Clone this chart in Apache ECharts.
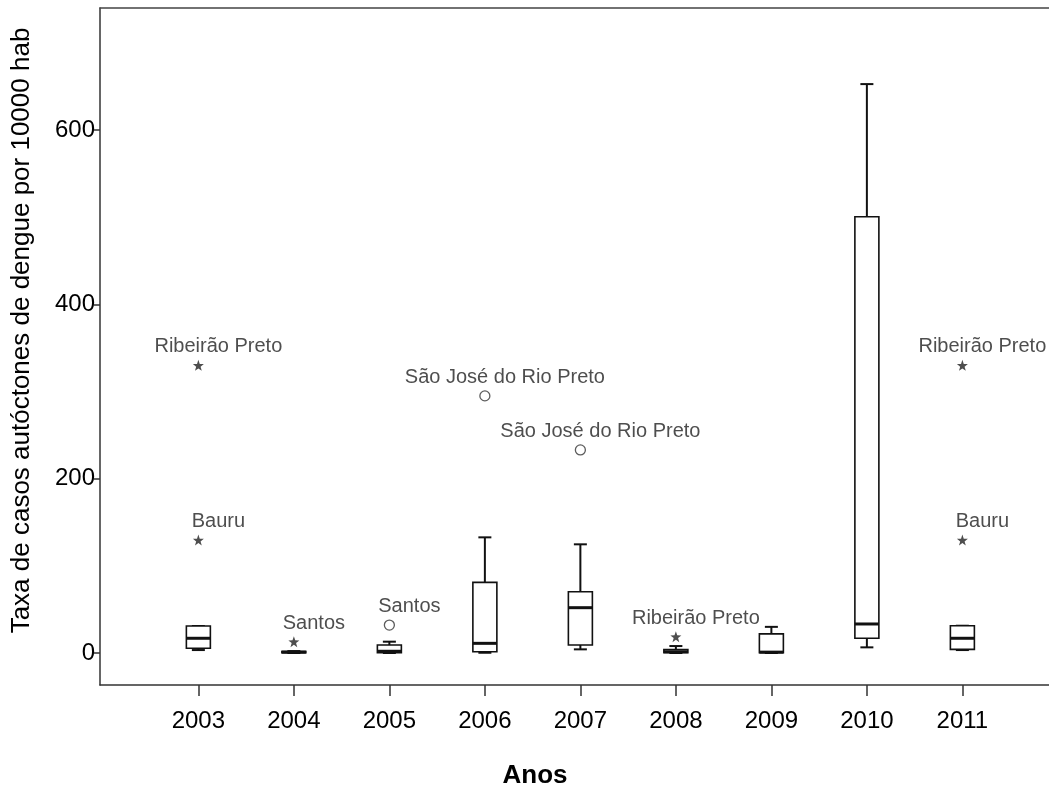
<!DOCTYPE html>
<html>
<head>
<meta charset="utf-8">
<script src="https://cdn.jsdelivr.net/npm/echarts@6/dist/echarts.min.js"></script>
<style>
html,body{margin:0;padding:0;background:#fff;}
#chart{width:1049px;height:789px;}
</style>
</head>
<body>
<div id="chart"></div>
<script>
// ---- data ----
const years = [2003, 2004, 2005, 2006, 2007, 2008, 2009, 2010, 2011];
const minVals = [3.4, 0, 0, 0.3, 4.2, 0, 0, 6.5, 3.4];
const q1Vals  = [5.4, 0.3, 0.4, 1.5, 9.2, 0.5, 0.3, 16.9, 4.2];
const medVals = [16.9, 1.0, 2.0, 11.1, 52, 1.5, 1.0, 33.3, 16.9];
const q3Vals  = [31, 1.8, 9.2, 81, 70.3, 4, 22, 500.5, 31.3];
const maxVals = [31, 2.2, 13, 132.7, 124.7, 8, 30, 652.7, 31.3];

const extremeYears  = [2003, 2003, 2004, 2008, 2011, 2011];
const extremeVals   = [330, 129.6, 13, 18.7, 330, 129.6];
const extremeNames  = ['Ribeirão Preto', 'Bauru', 'Santos', 'Ribeirão Preto', 'Ribeirão Preto', 'Bauru'];

const mildYears = [2005, 2006, 2007];
const mildVals  = [32, 295, 233];
const mildNames = ['Santos', 'São José do Rio Preto', 'São José do Rio Preto'];

const yTicks = [0, 200, 400, 600];
const xTitle = 'Anos';
const yTitle = 'Taxa de casos autóctones de dengue por 10000 hab';

// ---- build ----
const boxData = years.map((y, i) => [y, minVals[i], q1Vals[i], medVals[i], q3Vals[i], maxVals[i]]);
const extremeData = extremeYears.map((y, i) => ({ value: [y, extremeVals[i]], name: extremeNames[i] }));
const mildData = mildYears.map((y, i) => ({ value: [y, mildVals[i]], name: mildNames[i] }));

const FONT = '"Liberation Sans", Arial, sans-serif';
const STAR = 'path://M0,-10 L2.35,-3.24 L9.51,-3.09 L3.8,1.24 L5.88,8.09 L0,4 L-5.88,8.09 L-3.8,1.24 L-9.51,-3.09 L-2.35,-3.24 Z';
const X_MIN = 2001.97, X_MAX = 2011.907;

const labelCfg = {
  show: true,
  position: 'top',
  distance: 3,
  offset: [20, 0],
  formatter: p => p.name,
  color: '#222',
  fontFamily: FONT,
  fontSize: 20
};

function renderBox(params, api) {
  const x = api.value(0);
  const c = v => api.coord([x, v]);
  const cx = c(api.value(1))[0];
  const yMin = c(api.value(1))[1];
  const yQ1 = c(api.value(2))[1];
  const yMed = c(api.value(3))[1];
  const yQ3 = c(api.value(4))[1];
  const yMax = c(api.value(5))[1];
  const hw = 12, cw = 6.5;
  const stroke = '#111';
  return {
    type: 'group',
    children: [
      { type: 'line', shape: { x1: cx, y1: yQ1, x2: cx, y2: yMin }, style: { stroke, lineWidth: 2 } },
      { type: 'line', shape: { x1: cx - cw, y1: yMin, x2: cx + cw, y2: yMin }, style: { stroke, lineWidth: 2 } },
      { type: 'line', shape: { x1: cx, y1: yQ3, x2: cx, y2: yMax }, style: { stroke, lineWidth: 2 } },
      { type: 'line', shape: { x1: cx - cw, y1: yMax, x2: cx + cw, y2: yMax }, style: { stroke, lineWidth: 2 } },
      { type: 'rect', shape: { x: cx - hw, y: yQ3, width: 2 * hw, height: Math.max(yQ1 - yQ3, 0.5) }, style: { fill: '#fff', stroke, lineWidth: 1.6 } },
      { type: 'line', shape: { x1: cx - hw, y1: yMed, x2: cx + hw, y2: yMed }, style: { stroke, lineWidth: 3 } }
    ]
  };
}

const chart = echarts.init(document.getElementById('chart'), null, { renderer: 'canvas' });
chart.setOption({
  animation: false,
  backgroundColor: '#fff',
  grid: { left: 100, top: 8, bottom: 104, right: 0, outerBoundsMode: 'none', containLabel: false },
  xAxis: [{
    type: 'value',
    min: X_MIN,
    max: X_MAX,
    name: xTitle,
    nameLocation: 'middle',
    nameGap: 78,
    nameTextStyle: { fontFamily: FONT, fontSize: 26, fontWeight: 'bold', color: '#000', padding: [0, 79, 0, 0] },
    axisLine: { onZero: false, lineStyle: { color: '#333', width: 1.5 } },
    axisTick: { show: true, length: 11, customValues: years, lineStyle: { color: '#333', width: 1.5 } },
    axisLabel: { customValues: years, formatter: v => String(v), margin: 24, fontFamily: FONT, fontSize: 24, color: '#000' },
    splitLine: { show: false }
  }, {
    type: 'value',
    position: 'top',
    min: X_MIN,
    max: X_MAX,
    axisLine: { show: true, onZero: false, lineStyle: { color: '#444', width: 1.5 } },
    axisTick: { show: false },
    axisLabel: { show: false },
    splitLine: { show: false }
  }],
  yAxis: {
    type: 'value',
    min: -36.7,
    max: 740,
    name: yTitle,
    nameLocation: 'middle',
    nameGap: 65,
    nameTextStyle: { fontFamily: FONT, fontSize: 26, color: '#000', padding: [0, 0, 0, 32] },
    axisLine: { show: true, onZero: false, lineStyle: { color: '#333', width: 1.5 } },
    axisTick: { show: true, length: 6, customValues: yTicks, lineStyle: { color: '#333', width: 1.5 } },
    axisLabel: { customValues: yTicks, formatter: v => String(v), margin: 5, fontFamily: FONT, fontSize: 24, color: '#000' },
    splitLine: { show: false }
  },
  series: [
    {
      type: 'custom',
      renderItem: renderBox,
      encode: { x: 0, y: [1, 2, 3, 4, 5] },
      data: boxData,
      z: 2
    },
    {
      type: 'scatter',
      data: extremeData,
      symbol: STAR,
      symbolSize: 11,
      itemStyle: { color: '#222' },
      label: labelCfg,
      z: 3
    },
    {
      type: 'scatter',
      data: mildData,
      symbol: 'circle',
      symbolSize: 10,
      itemStyle: { color: '#fff', borderColor: '#333', borderWidth: 1.3 },
      label: labelCfg,
      z: 3
    }
  ]
});
</script>
</body>
</html>
